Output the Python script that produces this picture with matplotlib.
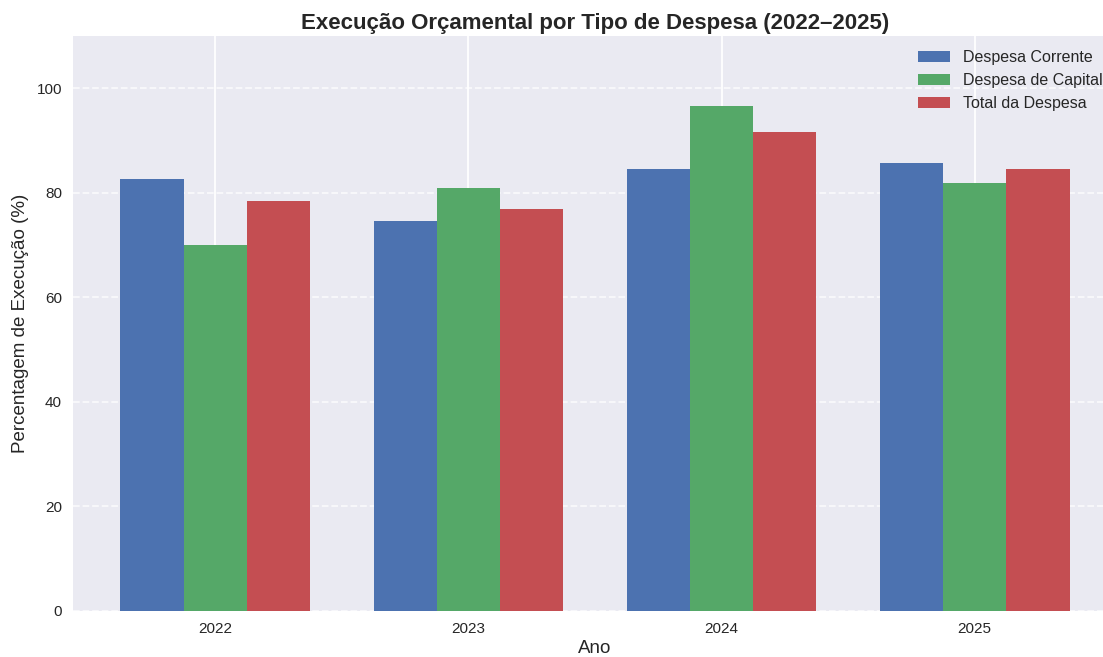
import numpy as np
import matplotlib
matplotlib.use("Agg")
from matplotlib import pyplot as plt

plt.style.use("seaborn-v0_8-darkgrid")
plt.rcParams['font.family'] = ['Liberation Sans', 'DejaVu Sans']
plt.rcParams['grid.linewidth'] = 1.3

anos = ['2022', '2023', '2024', '2025']
despesa_corrente = [82.6, 74.6, 84.6, 85.8]
despesa_capital = [70.1, 81.0, 96.7, 81.8]
total_despesa = [78.5, 77.0, 91.7, 84.5]

fig = plt.figure(figsize=(11.03, 6.57), dpi=100)
ax = fig.add_axes([73 / 1103, 46 / 657, 1044 / 1103, 575 / 657])

x = np.arange(len(anos))
w = 0.25
ax.bar(x - w, despesa_corrente, w, label='Despesa Corrente', color='#4C72B0')
ax.bar(x, despesa_capital, w, label='Despesa de Capital', color='#55A868')
ax.bar(x + w, total_despesa, w, label='Total da Despesa', color='#C44E52')

ax.set_xticks(x)
ax.set_xticklabels(anos, fontsize=11)
ax.tick_params(axis='y', labelsize=11, pad=8)
ax.tick_params(axis='x', pad=8)
ax.set_ylim(0, 110)
ax.set_xlim(-0.5625, 3.5625)
ax.grid(axis='y', linestyle='--', alpha=0.7)

ax.set_title('Execução Orçamental por Tipo de Despesa (2022–2025)', fontsize=16,
             fontweight='bold', pad=5)
ax.set_xlabel('Ano', fontsize=13.5, labelpad=3)
ax.set_ylabel('Percentagem de Execução (%)', fontsize=13.5, labelpad=5)
ax.legend(loc='upper right', fontsize=11.5)

fig.savefig('out.png', dpi=100)
